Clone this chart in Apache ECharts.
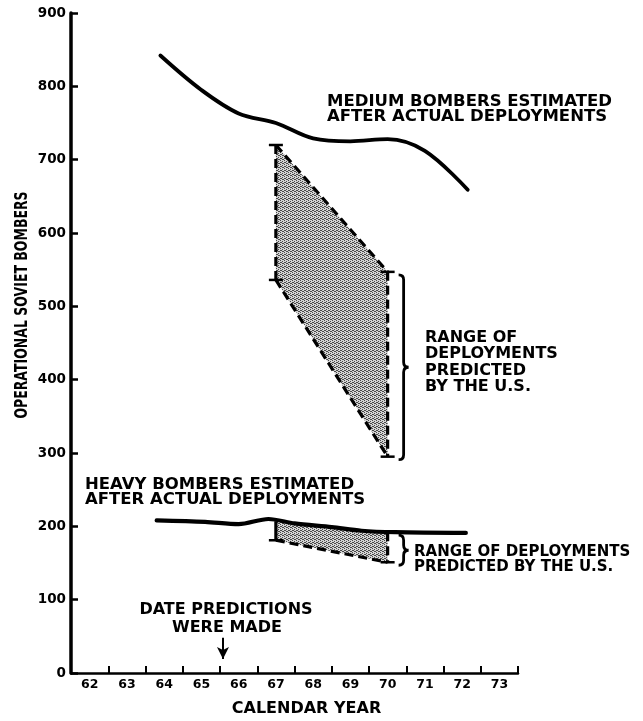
<!DOCTYPE html>
<html><head><meta charset="utf-8">
<script src="https://cdn.jsdelivr.net/npm/echarts@6/dist/echarts.min.js"></script>
<style>html,body{margin:0;background:#fff}#c{width:643px;height:721px}</style>
</head><body><div id="c"></div>
<script>
// ---- data ----
const yearLabels = ['62','63','64','65','66','67','68','69','70','71','72','73'];
const mediumYears   = [64.4, 65.5, 66.5, 67.5, 68.5, 69.5, 70.5, 71.5, 72.65];
const mediumBombers = [842, 795, 763, 750, 729, 725, 728, 712, 659];
const heavyYears    = [64.3, 65.6, 66.5, 67.3, 68.0, 69.0, 69.8, 70.7, 72.6];
const heavyBombers  = [208, 206, 203, 210, 204, 199, 194, 192, 191];
const medPredYears  = [67.5, 70.5];
const medPredHigh   = [720, 547];
const medPredLow    = [536, 295];
const heavyPredYears = [67.5, 70.5];
const heavyPredHigh  = [207, 192];
const heavyPredLow   = [181, 151];
const predictionDate = 66.08;

// ---- styles ----
const FONT = '"DejaVu Sans", "Liberation Sans", sans-serif';
function makePattern(){
  const c = document.createElement('canvas'); c.width = 4; c.height = 4;
  const g = c.getContext('2d');
  g.fillStyle = '#d4d4d4'; g.fillRect(0,0,4,4);
  g.fillStyle = '#4a4a4a';
  [[0,0],[2,1],[1,2],[3,3],[2,3],[0,2]].forEach(p => g.fillRect(p[0],p[1],1,1));
  return c;
}
const pattern = { image: makePattern(), repeat: 'repeat' };
const rangeStyles = [
  { top: 'dashed', left: 'dashed', w: 3.2, ticks: [[0,'lo'],[1,'hi'],[1,'lo'],[0,'hi']] },
  { top: 'none', left: 'solid', w: 3.2, ticks: [[0,'lo'],[1,'lo']] }
];

function renderRange(params, api){
  const x0 = api.value(0), x1 = api.value(1);
  const h0 = api.value(2), h1 = api.value(3), l0 = api.value(4), l1 = api.value(5);
  const A = api.coord([x0,h0]), B = api.coord([x1,h1]), C = api.coord([x1,l1]), D = api.coord([x0,l0]);
  const st = rangeStyles[params.dataIndex];
  const ch = [{ type:'polygon', shape:{ points:[A,B,C,D] }, style:{ fill: pattern, stroke: null } }];
  const dashed = { stroke:'#000', lineWidth: st.w, lineDash:[9,5], fill:null };
  const solid = { stroke:'#000', lineWidth: st.w, fill:null };
  const seg = (p,q,s) => ch.push({ type:'line', shape:{ x1:p[0], y1:p[1], x2:q[0], y2:q[1] }, style: s });
  if (st.top !== 'none') seg(A,B,dashed);
  seg(D,C,dashed);
  seg(A,D, st.left === 'solid' ? solid : dashed);
  seg(B,C,dashed);
  st.ticks.forEach(t => {
    const p = t[0] === 0 ? (t[1]==='hi'?A:D) : (t[1]==='hi'?B:C);
    seg([p[0]-7,p[1]],[p[0]+7,p[1]],{ stroke:'#000', lineWidth:2.5 });
  });
  // brace
  const bx = B[0] + 16, top = B[1] + 3, bot = C[1] + 3, mid = (top+bot)/2, w = 5;
  const path = `M${bx-w},${top} Q${bx},${top} ${bx},${top+w} L${bx},${mid-w} Q${bx},${mid} ${bx+w},${mid} Q${bx},${mid} ${bx},${mid+w} L${bx},${bot-w} Q${bx},${bot} ${bx-w},${bot}`;
  ch.push({ type:'path', shape:{ pathData: path }, style:{ stroke:'#000', lineWidth:2.8, fill:null } });
  return { type:'group', children: ch };
}

const rangeData = [
  [medPredYears[0], medPredYears[1], medPredHigh[0], medPredHigh[1], medPredLow[0], medPredLow[1]],
  [heavyPredYears[0], heavyPredYears[1], heavyPredHigh[0], heavyPredHigh[1], heavyPredLow[0], heavyPredLow[1]]
];

const txt = (x, y, text, size, align) => ({
  type:'text', x, y, silent:true,
  style:{ text, fontFamily: FONT, fontWeight:'bold', fontSize: size || 16, fill:'#000', align: align || 'left', verticalAlign:'middle' }
});

const chart = echarts.init(document.getElementById('c'), null, { renderer:'canvas' });
chart.setOption({
  animation: false,
  backgroundColor: '#fff',
  grid: { left:71, right:125, top:13, bottom:48, containLabel:false, outerBoundsMode:'none' },
  xAxis: [
    { type:'category', data: yearLabels, boundaryGap:true,
      name:'CALENDAR YEAR', nameLocation:'middle', nameGap:28,
      nameTextStyle:{ fontFamily:FONT, fontWeight:'bold', fontSize:16, color:'#000', padding:[0,0,0,24] },
      axisLine:{ lineStyle:{ color:'#000', width:2.5 } },
      axisTick:{ show:true, inside:true, length:7, interval:0, lineStyle:{ color:'#000', width:2 } },
      axisLabel:{ fontFamily:FONT, fontWeight:'bold', fontSize:12.5, color:'#000', margin:5, interval:0 },
      splitLine:{ show:false } },
    { type:'value', min:62, max:74, show:false }
  ],
  yAxis: { type:'value', min:0, max:900, interval:100,
    axisLine:{ show:true, lineStyle:{ color:'#000', width:3.5 } },
    axisTick:{ show:true, inside:true, length:7, lineStyle:{ color:'#000', width:2.5 } },
    axisLabel:{ fontFamily:FONT, fontWeight:'bold', fontSize:13.5, color:'#000', margin:5 },
    splitLine:{ show:false } },
  series: [
    { type:'custom', xAxisIndex:1, renderItem: renderRange, data: rangeData,
      encode:{ x:[0,1], y:[2,3,4,5] }, z:1, silent:true },
    { type:'line', name:'Medium bombers', xAxisIndex:1, smooth:0.35, symbol:'none', z:3,
      lineStyle:{ color:'#000', width:3.8, cap:'round' },
      data: mediumYears.map((x,i)=>[x, mediumBombers[i]]) },
    { type:'line', name:'Heavy bombers', xAxisIndex:1, smooth:0.3, symbol:'none', z:3,
      lineStyle:{ color:'#000', width:4.2, cap:'round' },
      data: heavyYears.map((x,i)=>[x, heavyBombers[i]]),
      markLine:{ silent:true, symbol:['none','arrow'], symbolSize:[9,12], label:{ show:false },
        lineStyle:{ color:'#000', width:2, type:'solid' },
        data:[[{ coord:[predictionDate, 48] }, { coord:[predictionDate, 19] }]] } }
  ],
  graphic: [
    txt(327, 101.5, 'MEDIUM BOMBERS ESTIMATED', 16.5),
    txt(327, 116.5, 'AFTER ACTUAL DEPLOYMENTS', 16.5),
    txt(425, 337.5, 'RANGE OF'),
    txt(425, 354, 'DEPLOYMENTS'),
    txt(425, 370.5, 'PREDICTED'),
    txt(425, 387, 'BY THE U.S.'),
    txt(85, 485, 'HEAVY BOMBERS ESTIMATED', 16.5),
    txt(85, 500, 'AFTER ACTUAL DEPLOYMENTS', 16.5),
    txt(414, 552.5, 'RANGE OF DEPLOYMENTS', 15),
    txt(414, 567, 'PREDICTED BY THE U.S.', 15),
    txt(226, 610, 'DATE PREDICTIONS', 16, 'center'),
    txt(227, 628, 'WERE MADE', 16, 'center'),
    { type:'text', x:22, y:305, rotation:Math.PI/2, scaleY:1.45, silent:true,
      style:{ text:'OPERATIONAL SOVIET BOMBERS', fontFamily:FONT, fontWeight:'bold', fontSize:12.5, fill:'#000', align:'center', verticalAlign:'middle' } }
  ]
});
</script></body></html>
